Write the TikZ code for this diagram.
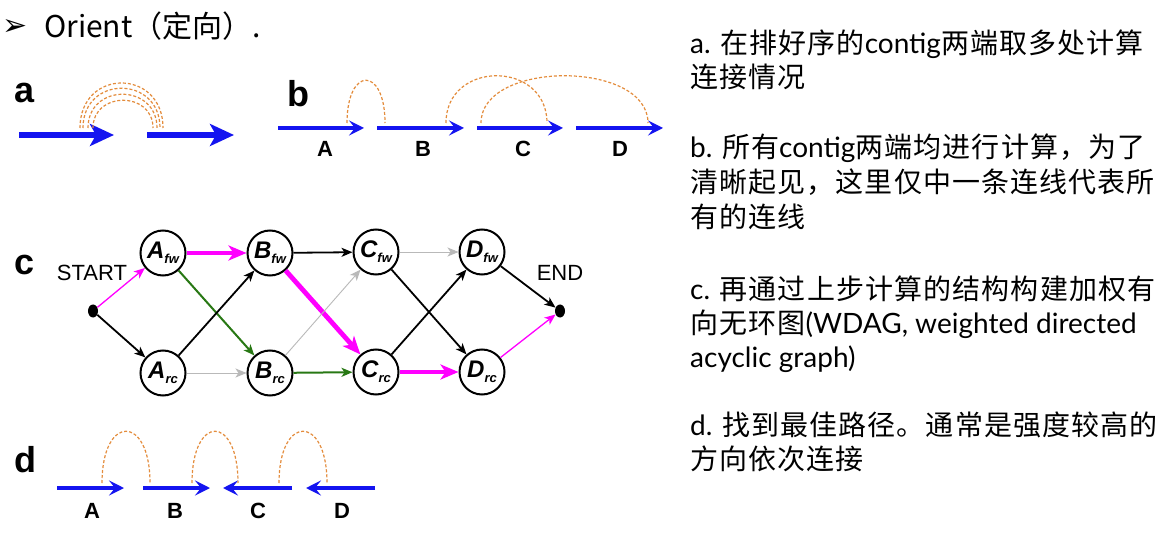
\documentclass[tikz,border=0pt]{standalone}
\usepackage{fontspec}
\setmainfont{Lato}
\newfontfamily\cjk[LetterSpace=4]{Noto Sans CJK SC}
\newfontfamily\cjkhead{Noto Sans CJK SC}
\newfontfamily\arial{Liberation Sans}
\newfontfamily\dejavu{DejaVu Sans}
\usetikzlibrary{arrows.meta,shapes.geometric}
\definecolor{cblue}{RGB}{20,20,240}
\definecolor{corange}{RGB}{228,140,60}
\definecolor{cmag}{RGB}{255,0,255}
\definecolor{cgreen}{RGB}{40,120,20}
\definecolor{cgray}{RGB}{185,185,185}
\newcommand\glab[2]{#1\raisebox{-5pt}{\fontsize{13}{13}\selectfont #2}}
\begin{document}
\begin{tikzpicture}[x=1pt,y=-1pt,
  bigblu/.style={draw=cblue,line width=6pt,-{Stealth[length=24pt,width=22pt,inset=6pt]}},
  blu/.style={draw=cblue,line width=3.2pt,-{Stealth[length=15pt,width=15pt,inset=6pt]}},
  arcdash/.style={draw=corange,line width=1.2pt,dash pattern=on 3pt off 2pt},
  plab/.style={font=\arial\bfseries\fontsize{36}{36}\selectfont,anchor=base west,inner sep=0pt},
  clab/.style={font=\arial\bfseries\fontsize{22}{22}\selectfont,anchor=base,inner sep=0pt},
  gnode/.style={circle,draw,line width=2pt,minimum size=45pt,inner sep=0pt,fill=white,
    font=\arial\bfseries\itshape\fontsize{24}{24}\selectfont},
  dot/.style={ellipse,fill=black,minimum width=10pt,minimum height=13pt,inner sep=0pt},
  gtip/.style={-{Stealth[length=11pt,width=9pt,inset=3pt]}},
  bigtip/.style={-{Stealth[length=18pt,width=15pt,inset=5pt]}},
  eblack/.style={draw=black,line width=1.8pt,gtip},
  egreen/.style={draw=cgreen,line width=2pt,gtip},
  egray/.style={draw=cgray,line width=0.9pt,gtip},
  emagthin/.style={draw=cmag,line width=1.3pt,gtip},
  emagthick/.style={draw=cmag,line width=4.8pt,bigtip},
  txt/.style={anchor=base west,inner sep=0pt,font=\fontsize{28}{28}\selectfont}
]
\useasboundingbox[fill=white] (0,0) rectangle (1166,534);

% header
\node[anchor=base west,inner sep=0pt,font=\dejavu\fontsize{30}{30}\selectfont] (bullet) at (2,36) {➢};
\node[anchor=base west,inner sep=0pt,font=\cjkhead\fontsize{30}{30}\selectfont] (title) at (44,38) {Orient（定向）.};

% panel a
\node[plab] (la) at (14,103) {a};
\coordinate (a1s) at (19,135); \coordinate (a1e) at (114,135);
\coordinate (a2s) at (147,135); \coordinate (a2e) at (234,135);
\draw[bigblu] (a1s) -- (a1e);
\draw[bigblu] (a2s) -- (a2e);
\draw[arcdash] (80,128) .. controls (80,68) and (163,68) .. (163,128);
\draw[arcdash] (83,128) .. controls (83,75) and (160,75) .. (160,128);
\draw[arcdash] (88,128) .. controls (88,83) and (157,83) .. (157,128);
\draw[arcdash] (93,128) .. controls (93,91) and (153,91) .. (153,128);

% panel b
\node[plab] (lb) at (287,107) {b};
\coordinate (bAs) at (278,128); \coordinate (bAe) at (364,128);
\coordinate (bBs) at (377,128); \coordinate (bBe) at (464,128);
\coordinate (bCs) at (477,128); \coordinate (bCe) at (563,128);
\coordinate (bDs) at (576,128); \coordinate (bDe) at (663,128);
\draw[blu] (bAs) -- (bAe);
\draw[blu] (bBs) -- (bBe);
\draw[blu] (bCs) -- (bCe);
\draw[blu] (bDs) -- (bDe);
\node[clab] (bA) at (325,157) {A};
\node[clab] (bB) at (423,157) {B};
\node[clab] (bC) at (523,157) {C};
\node[clab] (bD) at (620,157) {D};
\draw[arcdash] (347,123) .. controls (347,66) and (385,66) .. (385,123);
\draw[arcdash] (446,123) .. controls (446,60) and (547,60) .. (547,123);
\draw[arcdash] (481,123) .. controls (481,60) and (648,60) .. (648,123);

% panel c
\node[plab] (lc) at (14,275) {c};
\node[anchor=center,inner sep=0pt,font=\arial\fontsize{22}{22}\selectfont] (startlab) at (92,273) {START};
\node[anchor=center,inner sep=0pt,font=\arial\fontsize{22}{22}\selectfont] (endlab) at (560,273) {END};
\node[dot] (start) at (93,311) {};
\node[dot] (end) at (560,311) {};
\node[gnode] (Af) at (163,253) {\glab{A}{fw}};
\node[gnode] (Bf) at (270,253) {\glab{B}{fw}};
\node[gnode] (Cf) at (376,252) {\glab{C}{fw}};
\node[gnode] (Df) at (482,252) {\glab{D}{fw}};
\node[gnode] (Ar) at (163,373) {\glab{A}{rc}};
\node[gnode] (Br) at (270,373) {\glab{B}{rc}};
\node[gnode] (Cr) at (376,372) {\glab{C}{rc}};
\node[gnode] (Dr) at (482,372) {\glab{D}{rc}};
\draw[emagthin] (start) -- (Af);
\draw[eblack] (start) -- (Ar);
\draw[emagthick] (Af) -- (Bf);
\draw[egreen] (Af) -- (Br);
\draw[eblack] (Ar) -- (Bf);
\draw[egray] (Ar) -- (Br);
\draw[eblack] (Bf) -- (Cf);
\draw[emagthick] (Bf) -- (Cr);
\draw[egray] (Br) -- (Cf);
\draw[egreen] (Br) -- (Cr);
\draw[egray] (Cf) -- (Df);
\draw[eblack] (Cf) -- (Dr);
\draw[eblack] (Cr) -- (Df);
\draw[emagthick] (Cr) -- (Dr);
\draw[eblack] (Df) -- (end);
\draw[emagthin] (Dr) -- (end);

% panel d
\node[plab] (ld) at (14,472) {d};
\coordinate (dAs) at (57,488); \coordinate (dAe) at (124,488);
\coordinate (dBs) at (143,488); \coordinate (dBe) at (210,488);
\coordinate (dCs) at (292,488); \coordinate (dCe) at (223,488);
\coordinate (dDs) at (375,488); \coordinate (dDe) at (306,488);
\draw[blu] (dAs) -- (dAe);
\draw[blu] (dBs) -- (dBe);
\draw[blu] (dCs) -- (dCe);
\draw[blu] (dDs) -- (dDe);
\node[clab] (dA) at (92,518) {A};
\node[clab] (dB) at (175,518) {B};
\node[clab] (dC) at (258,518) {C};
\node[clab] (dD) at (342,518) {D};
\draw[arcdash] (102,483) .. controls (102,414) and (150,414) .. (150,483);
\draw[arcdash] (192,483) .. controls (192,414) and (238,414) .. (238,483);
\draw[arcdash] (279,483) .. controls (279,414) and (327,414) .. (327,483);

% right text
\node[txt] (ta1) at (690,54) {a. {\cjk 在排好序的}contig{\cjk 两端取多处计算}};
\node[txt] (ta2) at (690,88) {{\cjk 连接情况}};
\node[txt] (tb1) at (690,158) {b. {\cjk 所有}contig{\cjk 两端均进行计算，为了}};
\node[txt] (tb2) at (690,193) {{\cjk 清晰起见，这里仅中一条连线代表所}};
\node[txt] (tb3) at (690,228) {{\cjk 有的连线}};
\node[txt] (tc1) at (690,299) {c. {\cjk 再通过上步计算的结构构建加权有}};
\node[txt] (tc2) at (690,333) {{\cjk 向无环图}(WDAG, weighted directed};
\node[txt] (tc3) at (690,367) {acyclic graph)};
\node[txt] (td1) at (690,435) {d. {\cjk 找到最佳路径。通常是强度较高的}};
\node[txt] (td2) at (690,469) {{\cjk 方向依次连接}};
\end{tikzpicture}
\end{document}
